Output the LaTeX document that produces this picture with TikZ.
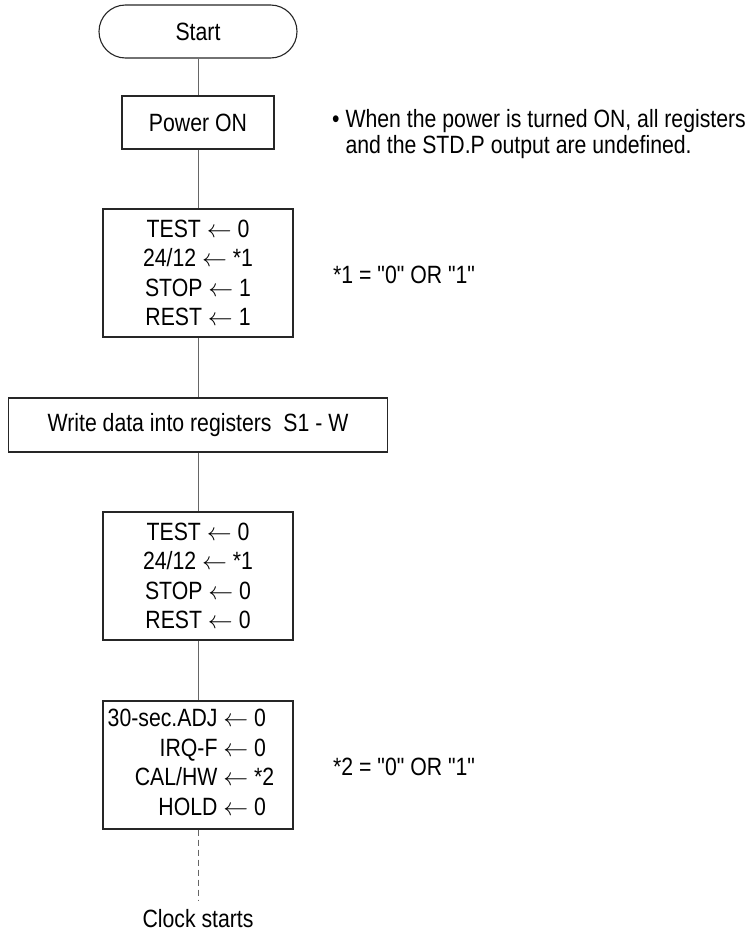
\documentclass[tikz,border=0pt]{standalone}
\usepackage{fontspec}
\setmainfont[FakeStretch=0.85,Ligatures=TeXOff]{Liberation Sans}
\begin{document}
\begin{tikzpicture}[x=1pt,y=-1pt,
  every node/.style={font=\fontsize{25}{29.5}\selectfont},
  procbox/.style={draw=black!85, line width=1.1pt, inner sep=0pt, align=center},
  termbox/.style={procbox, rounded corners=26.5pt},
  link/.style={draw=black!60, line width=1pt},
  note/.style={anchor=west, inner sep=0pt, align=left, font=\fontsize{25}{24.5}\selectfont}]
\useasboundingbox (0,0) rectangle (750,932);
\node[termbox, minimum width=198pt, minimum height=53pt] (start) at (198,31.5) {Start};
\node[procbox, minimum width=152pt, minimum height=53pt] (power) at (198,122.5) {Power ON};
\node[procbox, minimum width=190pt, minimum height=128pt] (init1) at (198,273)
  {TEST $\leftarrow$ 0\\24/12 $\leftarrow$ *1\\STOP $\leftarrow$ 1\\REST $\leftarrow$ 1};
\node[procbox, minimum width=379pt, minimum height=54pt] (write) at (198,425) {Write data into registers\ \ S1 - W};
\node[procbox, minimum width=190pt, minimum height=128pt] (init2) at (198,576)
  {TEST $\leftarrow$ 0\\24/12 $\leftarrow$ *1\\STOP $\leftarrow$ 0\\REST $\leftarrow$ 0};
\node[procbox, minimum width=190pt, minimum height=128pt] (init3) at (198,765)
  {\begin{tabular}{@{}r@{}l@{}}
   30-sec.ADJ & \ $\leftarrow$ 0\\
   IRQ-F & \ $\leftarrow$ 0\\
   CAL/HW & \ $\leftarrow$ *2\\
   HOLD & \ $\leftarrow$ 0
   \end{tabular}\hspace*{14pt}};
\node[anchor=base, inner xsep=0pt, inner ysep=8pt] (clock) at (198,927) {Clock starts};
\draw[link] (start) -- (power);
\draw[link] (power) -- (init1);
\draw[link] (init1) -- (write);
\draw[link] (write) -- (init2);
\draw[link] (init2) -- (init3);
\draw[link, dash pattern=on 6pt off 4pt] (init3) -- (clock);
\node[note] (n1) at (332,135) {\begin{tabular}{@{}l@{\ }l@{}}
  • & When the power is turned ON, all registers\\
    & and the STD.P output are undefined.
  \end{tabular}};
\node[note] (n2) at (333,275) {*1 = "0" OR "1"};
\node[note] (n3) at (333,767) {*2 = "0" OR "1"};
\end{tikzpicture}
\end{document}
